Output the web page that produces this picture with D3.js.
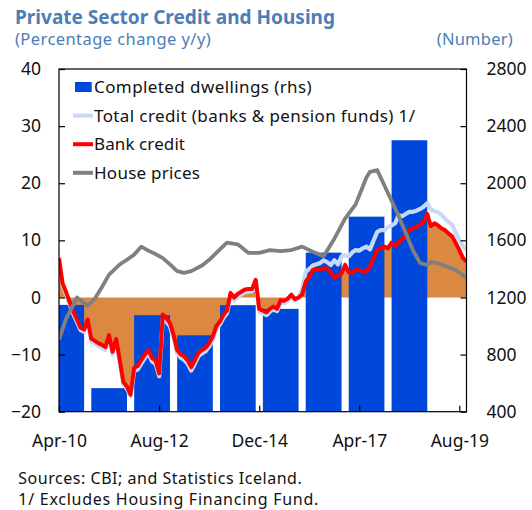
<!DOCTYPE html>
<html>
<head>
<meta charset="utf-8">
<script src="https://cdn.jsdelivr.net/npm/d3@7"></script>
<style>
  body { margin: 0; background: #fff; }
  text { font-family: "Noto Sans", "Open Sans", sans-serif; }
</style>
</head>
<body>
<svg id="chart" width="532" height="510"></svg>
<script>
// Data
// monthly series, Apr-2010 .. Oct-2019
const firstMonth = "2010-04";
const lastMonth = "2019-10";

const bankCredit = [
  6.9, 2.5, 0.9, -0.8, -2.5, -3.9, -5.3, -5.6, -3.9, -7.2, -7.6, -8.0,
  -8.3, -8.7, -6.6, -9.5, -7.3, -11.0, -14.8, -15.6, -17.0, -12.3, -12.0, -11.0,
  -10.0, -9.2, -10.6, -11.0, -13.3, -3.0, -3.6, -4.5, -6.5, -9.2, -10.0, -10.3,
  -11.0, -12.2, -11.0, -9.7, -9.2, -8.8, -8.0, -6.8, -5.0, -4.2, -3.0, -2.3,
  0.8, 0.0, 0.6, 1.0, 1.4, 1.5, 1.5, 3.1, -2.0, -2.3, -2.6, -2.0,
  -1.6, -2.0, -0.5, -0.6, -0.2, 0.5, -0.3, 0.0, 0.5, 2.8, 3.6, 4.8,
  4.9, 4.9, 5.1, 5.1, 4.4, 3.4, 3.8, 4.2, 5.7, 4.4, 4.3, 4.8,
  4.8, 4.6, 4.5, 5.5, 6.9, 8.4, 8.6, 8.9, 8.6, 9.6, 9.0, 9.6,
  10.2, 11.0, 11.8, 12.1, 12.3, 12.8, 13.3, 14.6, 12.5, 13.0, 12.6, 12.1,
  11.8, 11.2, 10.7, 9.5, 8.3, 6.9, 6.3
];

const totalCredit = [
  6.6, 2.2, 0.5, -1.2, -2.9, -4.3, -5.7, -6.0, -4.4, -7.7, -8.1, -8.5,
  -8.8, -9.2, -7.1, -10.0, -7.9, -11.5, -15.2, -16.0, -17.3, -12.9, -12.6, -11.6,
  -10.6, -9.8, -11.2, -11.6, -13.8, -3.6, -4.2, -5.1, -7.1, -9.8, -10.6, -10.9,
  -11.6, -12.8, -11.6, -10.3, -9.8, -9.4, -8.6, -7.4, -5.5, -4.7, -3.5, -2.8,
  0.3, -0.5, 0.1, 0.5, 0.9, 1.0, 1.1, 2.6, -2.5, -2.8, -3.1, -2.5,
  -2.1, -2.4, -1.0, -1.0, -0.6, 0.1, -0.6, 0.0, 1.5, 4.5, 5.0, 5.6,
  5.8, 6.0, 6.5, 6.2, 5.7, 6.5, 5.8, 7.2, 7.4, 7.2, 7.9, 8.3,
  8.2, 8.6, 8.9, 8.4, 10.0, 11.5, 11.8, 11.8, 12.3, 12.6, 13.0, 14.4,
  14.2, 14.6, 15.0, 15.0, 15.2, 15.5, 15.9, 16.5, 15.4, 15.1, 14.9, 14.5,
  13.8, 13.2, 12.7, 11.4, 10.0, 9.0, 8.3
];

const housePriceDates = [
  "2010-04", "2010-06", "2010-08", "2010-09", "2010-12", "2011-02", "2011-04", "2011-06",
  "2011-09", "2011-11", "2012-01", "2012-03", "2012-05", "2012-07", "2012-09", "2012-11",
  "2013-01", "2013-03", "2013-05", "2013-08", "2013-10", "2013-12", "2014-03", "2014-06",
  "2014-09", "2014-12", "2015-03", "2015-06", "2015-09", "2015-12", "2016-03", "2016-06",
  "2016-09", "2016-12", "2017-03", "2017-06", "2017-07", "2017-09", "2017-12", "2018-03",
  "2018-05", "2018-07", "2018-09", "2018-11", "2018-12", "2019-02", "2019-05", "2019-07",
  "2019-09", "2019-10"
];
const housePrices = [
  -7.4, -3.7, -1.3, 0.0, -1.5, -0.2, 1.8, 4.0,
  5.8, 6.6, 7.5, 8.9, 8.2, 7.6, 6.9, 5.8,
  4.6, 4.3, 4.6, 5.6, 6.6, 7.8, 9.6, 9.3,
  7.8, 7.8, 8.3, 8.1, 8.3, 8.9, 8.0, 7.2,
  10.3, 13.8, 16.3, 21.0, 22.0, 22.3, 18.3, 14.3,
  11.3, 8.3, 6.0, 5.7, 6.2, 6.0, 5.3, 4.8,
  3.9, 3.4
];

// completed dwellings, annual (rhs)
const dwellingYears = [2010, 2011, 2012, 2013, 2014, 2015, 2016, 2017, 2018];
const dwellings = [1148, 565, 1076, 935, 1146, 1120, 1514, 1766, 2301];

const leftTicks = [-20, -10, 0, 10, 20, 30, 40];
const rightTicks = [400, 800, 1200, 1600, 2000, 2400, 2800];
const xTickLabels = ["Apr-10", "Aug-12", "Dec-14", "Apr-17", "Aug-19"];

const legendLabels = [
  "Completed dwellings (rhs)",
  "Total credit (banks & pension funds) 1/",
  "Bank credit",
  "House prices"
];

// Layout
const svg = d3.select("#chart");
const margin = {left: 59, top: 69, right: 65.5, bottom: 98.3};
const W = 532, H = 510;
const innerW = W - margin.left - margin.right;
const innerH = H - margin.top - margin.bottom;

const colors = {
  bars: "#0047db",
  total: "#c6d9f7",
  bank: "#ff0000",
  house: "#808080",
  bankArea: "#da8842",
  titleBlue: "#4b7eb6"
};

const parseMonth = d3.timeParse("%Y-%m");
const parseTick = d3.timeParse("%b-%y");
const months = d3.timeMonth.range(parseMonth(firstMonth), d3.timeMonth.offset(parseMonth(lastMonth), 1));

const x = d3.scaleTime()
  .domain([parseMonth(firstMonth), parseMonth(lastMonth)])
  .range([0, innerW]);
const yL = d3.scaleLinear().domain([-20, 40]).range([innerH, 0]);
const yR = d3.scaleLinear().domain([400, 2800]).range([innerH, 0]);

const g = svg.append("g").attr("transform", `translate(${margin.left},${margin.top})`);

g.append("clipPath").attr("id", "plotClip")
  .append("rect").attr("width", innerW).attr("height", innerH);

const plot = g.append("g").attr("clip-path", "url(#plotClip)");

const bankData = months.map((m, i) => ({date: m, v: bankCredit[i]}));
const totalData = months.map((m, i) => ({date: m, v: totalCredit[i]}));
const houseData = housePriceDates.map((d, i) => ({date: parseMonth(d), v: housePrices[i]}));

// shaded bank credit area behind the bars
const area = d3.area()
  .x(d => x(d.date))
  .y0(yL(0))
  .y1(d => yL(d.v));

plot.append("path").datum(bankData)
  .attr("d", area).attr("fill", colors.bankArea);

// bars: each year drawn from Jan to Nov
plot.selectAll(".bar")
  .data(dwellingYears)
  .join("rect")
  .attr("class", "bar")
  .attr("x", d => x(new Date(d, 0, 1)))
  .attr("width", d => x(new Date(d, 10, 1)) - x(new Date(d, 0, 1)))
  .attr("y", (d, i) => yR(dwellings[i]))
  .attr("height", (d, i) => innerH - yR(dwellings[i]))
  .attr("fill", colors.bars);

// lines
const line = d3.line()
  .x(d => x(d.date))
  .y(d => yL(d.v));

plot.append("path").datum(totalData)
  .attr("d", line).attr("fill", "none")
  .attr("stroke", colors.total).attr("stroke-width", 4.2).attr("stroke-linejoin", "round");
plot.append("path").datum(bankData)
  .attr("d", line).attr("fill", "none")
  .attr("stroke", colors.bank).attr("stroke-width", 4).attr("stroke-linejoin", "round");
plot.append("path").datum(houseData)
  .attr("d", line).attr("fill", "none")
  .attr("stroke", colors.house).attr("stroke-width", 3.8).attr("stroke-linejoin", "round");

// frame
g.append("rect")
  .attr("width", innerW).attr("height", innerH)
  .attr("fill", "none").attr("stroke", "#000").attr("stroke-width", 1.2);

// axes (ticks point inwards)
const tickFont = 17.5;

const axL = g.append("g")
  .call(d3.axisLeft(yL).tickValues(leftTicks).tickSizeInner(-6).tickSizeOuter(0).tickPadding(18));
const axR = g.append("g").attr("transform", `translate(${innerW},0)`)
  .call(d3.axisRight(yR).tickValues(rightTicks).tickFormat(d3.format("d"))
    .tickSizeInner(-6).tickSizeOuter(0).tickPadding(20));
const axB = g.append("g").attr("transform", `translate(0,${innerH})`)
  .call(d3.axisBottom(x).tickValues(xTickLabels.map(parseTick))
    .tickFormat(d3.timeFormat("%b-%y")).tickSizeInner(-6).tickSizeOuter(0).tickPadding(23));

[axL, axR, axB].forEach(ax => {
  ax.select(".domain").remove();
  ax.selectAll(".tick line").attr("stroke", "#000").attr("stroke-width", 1.2);
  ax.selectAll(".tick text")
    .attr("font-size", tickFont)
    .attr("font-family", '"Noto Sans", sans-serif')
    .attr("fill", "#111");
});

// stretch a text's spacing so it spans the width seen in the reference
function spanTo(sel, w) {
  sel.attr("textLength", w).attr("lengthAdjust", "spacing");
}

// legend
const legend = g.append("g").attr("transform", "translate(14,18)");
const rowH = 28.6;
const legendWidths = [217.7, 321, 91, 106];
legendLabels.forEach((lab, i) => {
  const row = legend.append("g").attr("transform", `translate(0,${i * rowH})`);
  if (i === 0) {
    row.append("rect").attr("x", 2).attr("y", -5).attr("width", 16.7).attr("height", 10)
      .attr("fill", colors.bars);
  } else {
    const c = [null, colors.total, colors.bank, colors.house][i];
    row.append("line").attr("x1", 0).attr("x2", 20).attr("y1", 0).attr("y2", 0)
      .attr("stroke", c).attr("stroke-width", 4);
  }
  const t = row.append("text").attr("x", 21).attr("y", 6)
    .attr("font-size", 17).attr("fill", "#111").text(lab);
  spanTo(t, legendWidths[i]);
});

// titles
const title = svg.append("text").attr("x", 15).attr("y", 24)
  .attr("font-size", 19).attr("font-weight", "bold").attr("fill", colors.titleBlue)
  .text("Private Sector Credit and Housing");
spanTo(title, 320);

const sub = svg.append("text").attr("x", 15).attr("y", 44.5)
  .attr("font-size", 16.5).attr("fill", colors.titleBlue)
  .text("(Percentage change y/y)");
spanTo(sub, 195.7);

const subR = svg.append("text").attr("x", 436.7).attr("y", 44.5)
  .attr("font-size", 16.5).attr("fill", colors.titleBlue)
  .text("(Number)");
spanTo(subR, 76);

// notes
const src = svg.append("text").attr("x", 18.3).attr("y", 484)
  .attr("font-size", 16).attr("fill", "#111")
  .text("Sources: CBI; and Statistics Iceland.");
spanTo(src, 283.4);

const note = svg.append("text").attr("x", 18.3).attr("y", 505)
  .attr("font-size", 16).attr("fill", "#111")
  .text("1/ Excludes Housing Financing Fund.");
spanTo(note, 300);
</script>
</body>
</html>
